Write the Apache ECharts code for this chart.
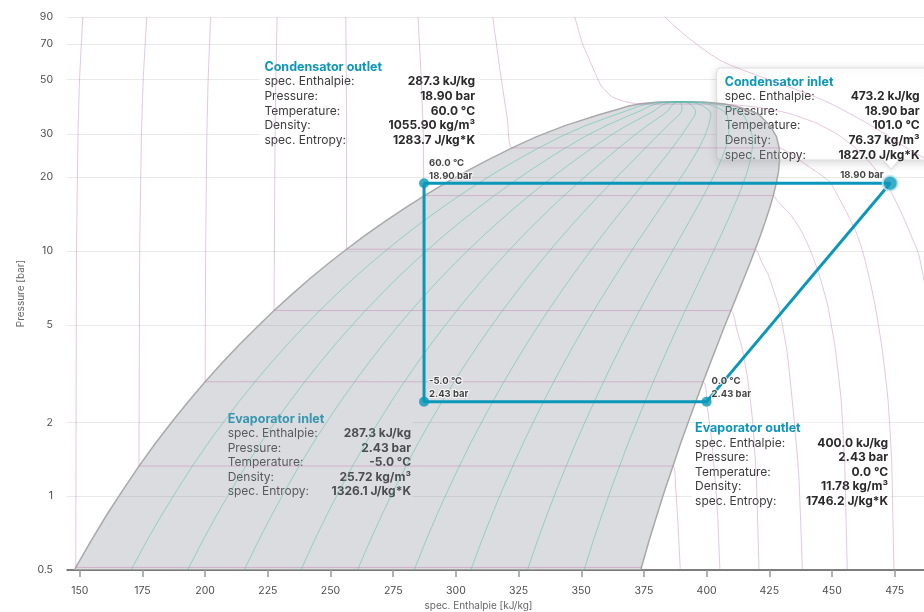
<!DOCTYPE html>
<html>
<head>
<meta charset="utf-8">
<script src="https://cdn.jsdelivr.net/npm/echarts@6/dist/echarts.min.js"></script>
<style>
  html, body { margin: 0; padding: 0; background: #ffffff; }
  #chart { width: 924px; height: 612px; }
</style>
</head>
<body>
<div id="chart"></div>
<script>
// ---- R134a saturation table (temperature °C, pressure bar, enthalpies kJ/kg) ----
const satT  = [-40.7, -40, -35, -30, -25, -20, -15, -10, -5, 0, 5, 10, 15, 20, 25, 30, 35, 40, 45, 50, 55, 60, 65, 70, 75, 80, 85, 90, 95, 97, 99, 100, 100.5, 100.9, 101.06];
const satP  = [0.500, 0.512, 0.661, 0.844, 1.064, 1.327, 1.639, 2.006, 2.433, 2.928, 3.497, 4.146, 4.884, 5.717, 6.654, 7.702, 8.870, 10.166, 11.599, 13.179, 14.915, 16.818, 18.898, 21.168, 23.641, 26.332, 29.258, 32.442, 35.912, 37.42, 38.95, 39.724, 40.12, 40.47, 40.59];
const satHf = [147.9, 148.4, 154.6, 160.9, 167.3, 173.6, 180.1, 186.7, 193.3, 200.0, 206.8, 213.6, 220.6, 227.5, 234.6, 241.7, 249.0, 256.4, 263.9, 271.6, 279.5, 287.5, 295.8, 304.3, 313.2, 322.4, 332.2, 343.5, 357.0, 363.0, 368.6, 373.0, 376.3, 381.0, 389.6];
const satHg = [373.8, 374.0, 377.1, 380.3, 383.4, 386.6, 389.6, 392.7, 395.7, 398.6, 401.5, 404.3, 407.0, 409.7, 412.3, 414.8, 417.2, 419.4, 421.5, 423.4, 425.1, 426.6, 427.8, 428.7, 429.1, 428.9, 427.9, 425.3, 421.0, 417.4, 411.6, 407.0, 403.5, 398.6, 389.6];

// vapour quality lines inside the two-phase dome
const qualities = [0.1, 0.2, 0.3, 0.4, 0.5, 0.6, 0.7, 0.8, 0.9];

// isotherms: temperature, liquid branch (from saturated liquid upward), vapour branch (from saturated vapour downward), [h, p]
const isoTemps = [-40, -20, 0, 20, 40, 60, 80, 100];
const isoLiquid = [
  [[148.4, 0.512], [148.7, 10], [149.3, 30], [149.9, 50], [151.2, 90]],
  [[173.6, 1.327], [173.9, 10], [174.6, 30], [175.3, 50], [176.7, 90]],
  [[200.0, 2.928], [200.2, 10], [200.7, 30], [201.2, 50], [202.2, 90]],
  [[227.5, 5.717], [227.6, 10], [227.9, 30], [228.2, 50], [228.7, 90]],
  [[256.4, 10.166], [256.4, 30], [256.3, 50], [256.1, 90]],
  [[287.5, 16.818], [287.0, 30], [286.2, 50], [284.9, 90]],
  [[322.4, 26.332], [320.6, 34.2], [317.6, 54.6], [314.7, 90]],
  [[373.0, 39.724], [367.0, 40.8], [362.5, 42.4], [358.0, 47.0], [354.5, 56.3], [350.5, 70], [347.4, 90]]
];
const isoVapour = [
  [[374.0, 0.512], [374.1, 0.5]],
  [[386.6, 1.327], [387.6, 1.1], [388.5, 0.8], [389.5, 0.5]],
  [[398.6, 2.928], [400.3, 2.3], [402.0, 1.7], [403.6, 1.1], [404.5, 0.8], [405.3, 0.5]],
  [[409.7, 5.717], [412.0, 4.8], [414.2, 4.0], [416.4, 3.0], [418.4, 2.0], [419.8, 1.2], [420.9, 0.5]],
  [[419.4, 10.166], [422.0, 9.0], [424.6, 8.0], [428.6, 6.0], [431.9, 4.0], [433.3, 3.0], [435.0, 2.0], [436.8, 1.2], [438.2, 0.5]],
  [[426.6, 16.818], [428.2, 16.0], [433.6, 14.0], [437.9, 12.0], [441.5, 10.0], [444.9, 8.0], [448.3, 6.0], [451.3, 4.0], [453.6, 2.5], [455.0, 1.4], [456.1, 0.5]],
  [[428.9, 26.332], [434.5, 24.5], [441.0, 22.0], [446.0, 20.3], [449.4, 19.0], [453.4, 16.0], [456.4, 14.0], [459.5, 12.0], [462.2, 10.0], [464.6, 8.0], [467.2, 6.0], [470.0, 4.0], [472.3, 2.5], [473.8, 1.4], [474.7, 0.5]],
  [[407.0, 39.724], [420.0, 38.6], [432.0, 36.6], [443.0, 33.5], [452.0, 30.0], [459.0, 26.5], [465.0, 23.0], [469.5, 20.2], [472.2, 18.5], [476.6, 15.1], [480.2, 12.5], [484.5, 9.75], [486.8, 7.5], [489.0, 4.5]]
];
// supercritical isotherm 120 °C
const iso120 = [[383.3, 90], [392.0, 75], [405.2, 60.1], [418.0, 53], [432.0, 47], [447.0, 41], [460.0, 35], [470.0, 30.5], [478.0, 27], [488.0, 23.5]];

// refrigeration cycle state points
const cycleNames = ['Condensator outlet', 'Evaporator inlet', 'Evaporator outlet', 'Condensator inlet'];
const cycleH   = [287.3, 287.3, 400.0, 473.2];
const cycleP   = [18.90, 2.43, 2.43, 18.90];
const cycleT   = [60.0, -5.0, 0.0, 101.0];
const cycleRho = [1055.90, 25.72, 11.78, 76.37];
const cycleS   = [1283.7, 1326.1, 1746.2, 1827.0];
const cycleOrder = [0, 1, 2, 3, 0];

// axis ticks
const xTicks = [150, 175, 200, 225, 250, 275, 300, 325, 350, 375, 400, 425, 450, 475];
const yTicks = [0.5, 1, 2, 5, 10, 20, 30, 50, 70, 90];

const FONT = 'Inter, "Noto Sans", sans-serif';
const TEAL = '#0a97b9';

const chart = echarts.init(document.getElementById('chart'), null, { renderer: 'canvas' });

// dome outline: saturated liquid up to the critical point, saturated vapour back down
const domePts = [];
for (let i = 0; i < satP.length; i++) domePts.push([satHf[i], satP[i]]);
for (let i = satP.length - 1; i >= 0; i--) domePts.push([satHg[i], satP[i]]);

const series = [];

series.push({
  type: 'custom',
  name: 'dome',
  silent: true,
  clip: true,
  z: 1,
  data: [[satHf[0], satP[0]]],
  renderItem: function (params, api) {
    return {
      type: 'polygon',
      shape: { points: domePts.map(function (d) { return api.coord(d); }) },
      style: { fill: 'rgba(146,149,158,0.33)', stroke: '#a9a9a9', lineWidth: 1.5 }
    };
  }
});

qualities.forEach(function (q) {
  series.push({
    type: 'line',
    silent: true,
    z: 2,
    symbol: 'none',
    lineStyle: { color: 'rgba(70,196,176,0.5)', width: 1 },
    data: satP.map(function (p, i) { return [satHf[i] + q * (satHg[i] - satHf[i]), p]; })
  });
});

isoTemps.forEach(function (T, k) {
  const pts = isoLiquid[k].slice().reverse().concat(isoVapour[k]);
  series.push({
    type: 'line',
    silent: true,
    z: 2,
    symbol: 'none',
    smooth: 0.15,
    lineStyle: { color: 'rgba(196,118,178,0.42)', width: 1 },
    data: pts
  });
});

series.push({
  type: 'line',
  silent: true,
  z: 2,
  symbol: 'none',
  smooth: 0.3,
  lineStyle: { color: 'rgba(196,118,178,0.42)', width: 1 },
  data: iso120
});

// cycle path
series.push({
  type: 'line',
  name: 'cycle',
  z: 5,
  silent: true,
  symbol: 'none',
  lineStyle: { color: TEAL, width: 3 },
  data: cycleOrder.map(function (i) { return [cycleH[i], cycleP[i]]; })
});

// state points with temperature / pressure tags
series.push({
  type: 'scatter',
  name: 'states',
  z: 6,
  silent: true,
  data: cycleH.map(function (h, i) {
    const hot = i === 3;
    return {
      value: [h, cycleP[i]],
      symbolSize: hot ? 15 : 10,
      itemStyle: hot ? { color: TEAL, borderColor: '#c4e8f1', borderWidth: 2 } : { color: TEAL },
      label: {
        show: true,
        formatter: hot ? cycleP[i].toFixed(2) + ' bar'
                       : cycleT[i].toFixed(1) + ' °C\n' + cycleP[i].toFixed(2) + ' bar',
        position: hot ? [2, 6.8] : [10, 4.5],
        align: hot ? 'right' : 'left',
        verticalAlign: 'bottom',
        fontFamily: FONT,
        fontSize: 9.5,
        fontWeight: 'bold',
        lineHeight: 13,
        color: '#111',
        textBorderColor: '#ffffff',
        textBorderWidth: 2
      }
    };
  })
});

chart.setOption({
  animation: false,
  backgroundColor: '#ffffff',
  textStyle: { fontFamily: FONT },
  grid: { left: 67, right: 0, top: 17, bottom: 42, outerBoundsMode: 'none', containLabel: false },
  xAxis: {
    type: 'value',
    min: 144.9,
    max: 486.7,
    name: 'spec. Enthalpie [kJ/kg]',
    nameLocation: 'middle',
    nameGap: 28,
    nameTextStyle: { color: '#666', fontSize: 10, fontFamily: FONT, padding: [0, 34, 0, 0] },
    axisLine: { show: true, lineStyle: { color: '#555', width: 1.5 } },
    axisTick: { show: true, length: 7, customValues: xTicks, lineStyle: { color: '#999', width: 1.5 } },
    axisLabel: { customValues: xTicks, color: '#4d4d4d', fontSize: 10.5, margin: 15, fontFamily: FONT },
    splitLine: { show: false }
  },
  yAxis: {
    type: 'log',
    logBase: 10,
    min: 0.5,
    max: 90,
    name: 'Pressure [bar]',
    nameLocation: 'middle',
    nameGap: 38,
    nameRotate: 90,
    nameTextStyle: { color: '#666', fontSize: 10, fontFamily: FONT },
    axisLine: { show: false },
    axisTick: { show: false, customValues: yTicks },
    axisLabel: { customValues: yTicks, color: '#4d4d4d', fontSize: 10.5, margin: 14, fontFamily: FONT,
                 formatter: function (v) { return String(v); } },
    splitLine: { show: true, lineStyle: { color: '#e9e9e9', width: 1 } }
  },
  series: series
});

// ---- state info boxes, anchored to the state points ----
const rowKeys = ['spec. Enthalpie:', 'Pressure:', 'Temperature:', 'Density:', 'spec. Entropy:'];
function rowValues(i) {
  return [
    cycleH[i].toFixed(1) + ' kJ/kg',
    cycleP[i].toFixed(2) + ' bar',
    cycleT[i].toFixed(1) + ' °C',
    cycleRho[i].toFixed(2) + ' kg/m³',
    cycleS[i].toFixed(1) + ' J/kg*K'
  ];
}
// offsets relative to the point: text left/right, title line centre, background box
const boxLayout = [
  { left: -159.6, right: 51.0, top: -116.0, box: [-164.5, -128.5, 220, 93.5], callout: false },
  { left: -196.4, right: -13.0, top: 17.2, box: [-198.4, 9.0, 187, 90], callout: false },
  { left: -11.5, right: 181.5, top: 26.7, box: [-15.0, 21.0, 198.5, 87], callout: false },
  { left: -165.5, right: 29.5, top: -101.2, box: [-173.5, -115.2, 216, 92], callout: true }
];

function drawBoxes() {
  const groups = boxLayout.map(function (L, i) {
    const pt = chart.convertToPixel({ gridIndex: 0 }, [cycleH[i], cycleP[i]]);
    const children = [];
    const b = L.box;
    if (L.callout) {
      children.push({
        type: 'rect',
        shape: { x: b[0], y: b[1], width: b[2], height: b[3], r: 4 },
        style: { fill: '#ffffff', stroke: '#dedede', lineWidth: 1,
                 shadowBlur: 10, shadowOffsetY: 2, shadowColor: 'rgba(0,0,0,0.16)' }
      });
      const by = b[1] + b[3];
      children.push({
        type: 'polygon',
        shape: { points: [[-7, by - 1], [9, by - 1], [1, by + 9]] },
        style: { fill: '#ffffff', shadowBlur: 4, shadowOffsetY: 2, shadowColor: 'rgba(0,0,0,0.10)' }
      });
      children.push({
        type: 'polyline',
        shape: { points: [[-7, by], [1, by + 9], [9, by]] },
        style: { stroke: '#dedede', lineWidth: 1, fill: null }
      });
      children.push({
        type: 'rect',
        shape: { x: -6, y: by - 2, width: 14, height: 2.5 },
        style: { fill: '#ffffff' }
      });
    } else {
      children.push({
        type: 'rect',
        shape: { x: b[0], y: b[1], width: b[2], height: b[3] },
        style: { fill: '#ffffff' }
      });
    }
    children.push({
      type: 'text', x: L.left, y: L.top,
      style: { text: cycleNames[i], fill: TEAL, fontFamily: FONT, fontSize: 12.5, fontWeight: 'bold',
               align: 'left', verticalAlign: 'middle' }
    });
    const vals = rowValues(i);
    rowKeys.forEach(function (k, r) {
      const y = L.top + 14.6 * (r + 1);
      children.push({
        type: 'text', x: L.left, y: y,
        style: { text: k, fill: '#3c3c3c', fontFamily: FONT, fontSize: 12, align: 'left', verticalAlign: 'middle' }
      });
      children.push({
        type: 'text', x: L.right, y: y,
        style: { text: vals[r], fill: '#2a2a2a', fontFamily: FONT, fontSize: 12, fontWeight: 'bold',
                 align: 'right', verticalAlign: 'middle' }
      });
    });
    return { type: 'group', x: pt[0], y: pt[1], z: 100, silent: true, children: children };
  });
  chart.setOption({ graphic: groups });
}
drawBoxes();
</script>
</body>
</html>
